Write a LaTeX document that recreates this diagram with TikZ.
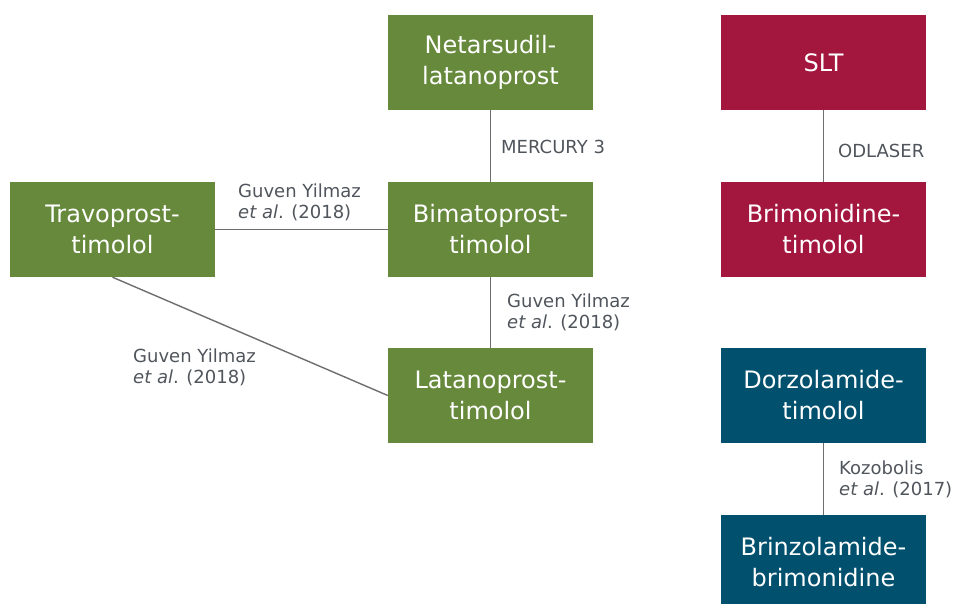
\documentclass[tikz,border=0pt]{standalone}
\usepackage{fontspec}
\setmainfont{DejaVu Sans}
\definecolor{pgreen}{HTML}{66893C}
\definecolor{pred}{HTML}{A3173F}
\definecolor{pteal}{HTML}{00506E}
\definecolor{plabel}{HTML}{50555C}
\definecolor{pline}{HTML}{6E6E6E}
\begin{document}
\begin{tikzpicture}[x=1pt,y=-1pt,
  boxg/.style={fill=pgreen,text=white,minimum width=205pt,minimum height=95pt,inner sep=0pt,align=center,font=\fontsize{24}{31}\selectfont},
  boxr/.style={boxg,fill=pred},
  boxt/.style={boxg,fill=pteal},
  lbl/.style={text=plabel,anchor=west,inner sep=0pt,align=left,font=\fontsize{18}{21}\selectfont},
  conn/.style={draw=pline,line width=1.4pt}]
\useasboundingbox (0,0) rectangle (959,603);
\node[boxg] (travo) at (112.5,229.5) {Travoprost-\\timolol};
\node[boxg] (neta) at (490.5,62.5) {Netarsudil-\\latanoprost};
\node[boxg] (bima) at (490.5,229.5) {Bimatoprost-\\timolol};
\node[boxg] (lata) at (490.5,395.5) {Latanoprost-\\timolol};
\node[boxr] (slt) at (823.5,62.5) {SLT};
\node[boxr] (brimo) at (823.5,229.5) {Brimonidine-\\timolol};
\node[boxt] (dorzo) at (823.5,395) {Dorzolamide-\\timolol};
\node[boxt] (brinzo) at (823.5,562.5) {Brinzolamide-\\brimonidine};
\draw[conn] (neta) -- (bima);
\draw[conn] (travo) -- (bima);
\draw[conn] (bima) -- (lata);
\draw[conn] (travo.south) -- (lata.west);
\draw[conn] (slt) -- (brimo);
\draw[conn] (dorzo) -- (brinzo);
\node[lbl] (l1) at (238,202) {Guven Yilmaz\\\textit{et al}. (2018)};
\node[lbl] (l2) at (501,147) {MERCURY 3};
\node[lbl] (l3) at (507,312) {Guven Yilmaz\\\textit{et al}. (2018)};
\node[lbl] (l4) at (133,367) {Guven Yilmaz\\\textit{et al}. (2018)};
\node[lbl] (l5) at (838,151) {ODLASER};
\node[lbl] (l6) at (839,479) {Kozobolis\\\textit{et al}. (2017)};
\end{tikzpicture}
\end{document}
